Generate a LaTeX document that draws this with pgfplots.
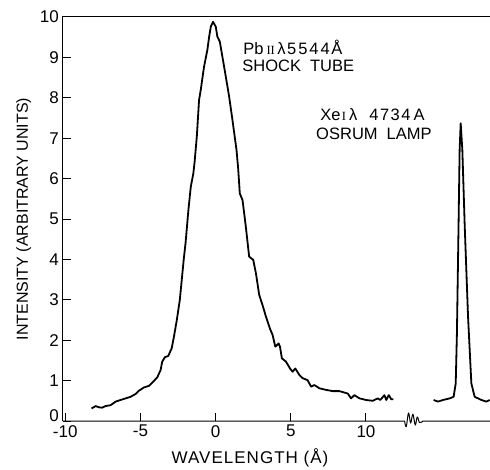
\documentclass[border=0pt]{standalone}
\usepackage{fontspec}
\setmainfont{Liberation Sans}
\newfontfamily\serifrn{Liberation Serif}
\usepackage{pgfplots}
\pgfplotsset{compat=1.18}
\newcommand{\rn}[1]{{\serifrn\fontsize{12.5}{12.5}\selectfont #1}}
\begin{document}
\begin{tikzpicture}
\begin{axis}[name=ax, scale only axis, width=427pt, height=404pt,
  xmin=-10.15, xmax=18.25, ymin=0, ymax=10,
  axis line style={draw=none},
  xtick={-10,-5,0,5,10}, ytick={1,2,...,10},
  extra y ticks={0},
  extra y tick style={yticklabel style={yshift=5pt}},
  tick align=inside, xtick pos=bottom, ytick pos=left,
  major tick length=8pt, tick style={black, line width=1pt},
  /pgf/number format/assume math mode=true,
  tick label style={font=\fontsize{17}{18}\selectfont},
  yticklabel style={xshift=-3pt, inner sep=1pt},
  xticklabel style={yshift=-3pt, inner sep=1pt},
  xlabel={WAVELENGTH (Å)}, ylabel={INTENSITY (ARBITRARY UNITS)},
  label style={font=\fontsize{16}{18}\selectfont},
  xlabel style={at={(axis description cs:0.438,-0.106)}, anchor=base,
    font=\fontsize{17}{18}\selectfont\addfontfeature{LetterSpace=6}},
  ylabel style={at={(axis description cs:-0.082,0.5)}, anchor=base},
  clip=false,
]
\addplot[black, line width=1.8pt, line join=round, mark=none] coordinates {
(-8.25,0.31) (-7.98,0.37) (-7.77,0.34) (-7.55,0.33) (-7.32,0.37) (-6.99,0.39)
(-6.65,0.48) (-6.32,0.52) (-5.99,0.56) (-5.65,0.60) (-5.32,0.67) (-5.10,0.75)
(-4.77,0.83) (-4.43,0.87) (-4.21,0.95) (-3.88,1.08) (-3.66,1.26) (-3.55,1.47)
(-3.37,1.58) (-3.15,1.61) (-2.92,1.80) (-2.77,2.09) (-2.58,2.50) (-2.38,3.00)
(-2.12,4.00) (-2.00,4.40) (-1.81,5.22) (-1.65,5.80) (-1.48,6.13) (-1.40,6.40)
(-1.25,7.04) (-1.10,7.95) (-0.99,8.19) (-0.77,8.77) (-0.55,9.18) (-0.43,9.51)
(-0.32,9.76) (-0.17,9.88) (0.01,9.76) (0.12,9.51) (0.28,9.39) (0.45,9.02)
(0.68,8.52) (0.90,8.03) (1.12,7.45) (1.39,6.71) (1.50,6.25) (1.61,5.63)
(1.79,5.47) (2.01,4.81) (2.23,4.07) (2.50,3.99) (2.68,3.66) (2.90,3.12)
(3.12,2.87) (3.35,2.58) (3.61,2.29) (3.79,2.13) (3.97,1.84) (4.19,1.92)
(4.28,1.84) (4.41,1.55) (4.68,1.47) (4.95,1.30) (5.12,1.22) (5.30,1.30)
(5.57,1.14) (5.79,1.06) (6.12,1.01) (6.35,0.85) (6.57,0.89) (6.90,0.81)
(7.35,0.77) (7.79,0.74) (8.23,0.74) (8.79,0.68) (9.01,0.56) (9.23,0.64)
(9.57,0.56) (10.01,0.52) (10.45,0.50) (10.79,0.56) (10.95,0.52) (11.23,0.64)
(11.35,0.52) (11.52,0.64) (11.68,0.54) (11.83,0.54)
};
\addplot[black, line width=1.8pt, line join=round, mark=none] coordinates {
(14.50,0.52) (14.79,0.48) (15.12,0.52) (15.57,0.56) (15.83,0.60) (15.97,0.93)
(16.05,2.17) (16.15,4.64) (16.23,6.71) (16.30,7.37) (16.41,6.71) (16.57,4.81)
(16.79,2.58) (17.01,0.93) (17.23,0.60) (17.68,0.52) (18.01,0.48) (18.23,0.52)
};
% axis frame (left, top) and broken bottom axis
\draw[line width=1pt] (rel axis cs:0,0) -- (rel axis cs:0,1) -- (rel axis cs:1,1);
\draw[line width=1pt, line join=round] (-10.15,0) -- (12.57,0)
  plot[smooth, tension=0.6] coordinates {(12.57,0) (12.68,-0.14) (12.83,0.2) (12.97,-0.05) (13.12,0.17) (13.28,-0.1) (13.41,0.1) (13.57,-0.04) (13.79,0)}
  -- (18.25,0);
\node[anchor=base west, font=\fontsize{16.5}{18}\selectfont, inner sep=0pt] at (1.83,9.08)
  {Pb\kern3pt\rn{II}\kern2.5pt λ\kern1.5pt 5\kern2pt 5\kern2pt 4\kern2pt 4\kern1.5pt Å};
\node[anchor=base west, font=\fontsize{16.5}{18}\selectfont, inner sep=0pt] at (1.77,8.66)
  {SHOCK\hspace{9pt}TUBE};
\node[anchor=base west, font=\fontsize{16.5}{18}\selectfont, inner sep=0pt] at (6.95,7.43)
  {Xe\kern1.5pt\rn{I}\kern3pt λ\hspace{12pt}4\kern1.5pt 7\kern1.5pt 3\kern1.5pt 4\kern3pt A};
\node[anchor=base west, font=\fontsize{16.5}{18}\selectfont, inner sep=0pt] at (6.68,6.98)
  {OSRUM\hspace{9pt}LAMP};
\end{axis}
\pgfresetboundingbox
\useasboundingbox ([xshift=-63pt,yshift=-48pt]ax.south west) rectangle ([yshift=17pt]ax.north east);
\end{tikzpicture}
\end{document}
